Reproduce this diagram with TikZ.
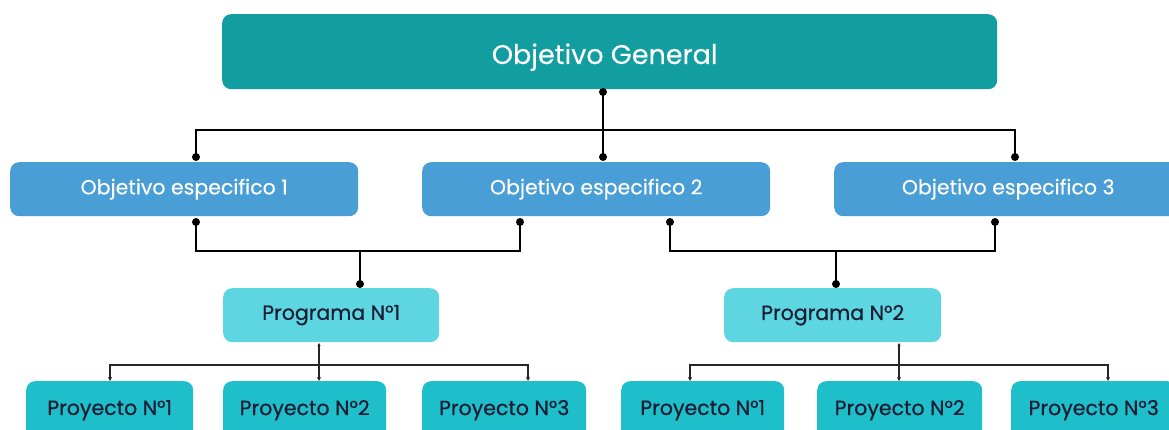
\documentclass[tikz,border=0pt]{standalone}
\usepackage{fontspec}
\setmainfont{Poppins}
\newfontfamily\medfont{Poppins}[FakeBold=0.6]
\newfontfamily\lightbold{Poppins}[FakeBold=0.3]
\usetikzlibrary{arrows.meta,calc}
\definecolor{cTop}{HTML}{129DA0}
\definecolor{cObj}{HTML}{4A9ED6}
\definecolor{cProg}{HTML}{5DD6E2}
\definecolor{cProy}{HTML}{1FBECB}
\definecolor{cTxt}{HTML}{1B1D33}
\tikzset{
  x=1pt,y=-1pt,
  box/.style={rounded corners=9pt,inner sep=0pt,anchor=north west},
  topbox/.style={box,fill=cTop,text=white,font=\lightbold\fontsize{27}{32}\selectfont},
  objbox/.style={box,fill=cObj,text=white,font=\lightbold\fontsize{20.5}{24}\selectfont},
  progbox/.style={box,fill=cProg,text=cTxt,font=\medfont\fontsize{20.5}{24}\selectfont},
  proybox/.style={box,fill=cProy,text=cTxt,font=\medfont\fontsize{20.5}{24}\selectfont},
  link/.style={draw=black,line width=1.8pt},
  thin/.style={draw=black!85,line width=1.1pt},
  dot/.style={circle,fill=black,inner sep=0pt,minimum size=8pt},
  tip/.style={-{Stealth[length=4pt,width=4pt]}},
}
\begin{document}
\begin{tikzpicture}
\useasboundingbox (0,0) rectangle (1169,430);
\clip (0,0) rectangle (1169,430);
\fill[white] (0,0) rectangle (1169,430);
% boxes
\node[topbox,minimum width=775pt,minimum height=75pt,text depth=0pt] (g) at (222,14) {\hspace*{-10pt}\raisebox{-4pt}{Objetivo General}};
\node[objbox,minimum width=348pt,minimum height=54pt] (e1) at (10,162) {Objetivo especifico 1};
\node[objbox,minimum width=348pt,minimum height=54pt] (e2) at (422,162) {Objetivo especifico 2};
\node[objbox,minimum width=348pt,minimum height=54pt] (e3) at (834,162) {Objetivo especifico 3};
\node[progbox,minimum width=216pt,minimum height=54pt] (p1) at (223,288) {Programa N°1};
\node[progbox,minimum width=217pt,minimum height=54pt] (p2) at (724,288) {Programa N°2};
\node[proybox,minimum width=167pt,minimum height=58pt] (a1) at (26,381) {Proyecto N°1};
\node[proybox,minimum width=163pt,minimum height=58pt] (a2) at (223,381) {Proyecto N°2};
\node[proybox,minimum width=164pt,minimum height=58pt] (a3) at (422,381) {Proyecto N°3};
\node[proybox,minimum width=163pt,minimum height=58pt] (b1) at (621,381) {Proyecto N°1};
\node[proybox,minimum width=165pt,minimum height=58pt] (b2) at (817,381) {Proyecto N°2};
\node[proybox,minimum width=165pt,minimum height=58pt] (b3) at (1011,381) {Proyecto N°3};
% connector points
\coordinate (gS) at (603,92);
\coordinate (e1N) at (196,157);
\coordinate (e2N) at (603,157);
\coordinate (e3N) at (1015,157);
\coordinate (e1S) at (196,222);
\coordinate (e2S) at (520,222);
\coordinate (e2S2) at (670,222);
\coordinate (e3S) at (995,222);
\coordinate (p1N) at (360,284);
\coordinate (p2N) at (836,284);
\coordinate (p1S) at (319,343);
\coordinate (p2S) at (899,343);
\coordinate (a1N) at (110,381);
\coordinate (a2N) at (319,381);
\coordinate (a3N) at (528,381);
\coordinate (b1N) at (690,381);
\coordinate (b2N) at (899,381);
\coordinate (b3N) at (1108,381);
% top level
\draw[link] (gS) -- (e2N);
\draw[link] (e1N) |- (603,130) -| (e3N);
\node[dot] at (gS) {};
\node[dot] at (e1N) {};
\node[dot] at (e2N) {};
\node[dot] at (e3N) {};
% to programs
\draw[link] (e1S) |- (e2S |- 0,251) -- (e2S);
\draw[link] (p1N) -- (p1N |- 0,251);
\draw[link] (e2S2) |- (e3S |- 0,251) -- (e3S);
\draw[link] (p2N) -- (p2N |- 0,251);
\foreach \c in {e1S,e2S,e2S2,e3S,p1N,p2N} \node[dot] at (\c) {};
% to projects
\draw[thin,{Stealth[length=3pt,width=3pt]}-{Stealth[length=4pt,width=4pt]}] (p1S) -- (a2N);
\draw[thin,tip] (p1S |- 0,365) -| (a1N);
\draw[thin,tip] (p1S |- 0,365) -| (a3N);
\draw[thin,{Stealth[length=3pt,width=3pt]}-{Stealth[length=4pt,width=4pt]}] (p2S) -- (b2N);
\draw[thin,tip] (p2S |- 0,365) -| (b1N);
\draw[thin,tip] (p2S |- 0,365) -| (b3N);
\end{tikzpicture}
\end{document}
